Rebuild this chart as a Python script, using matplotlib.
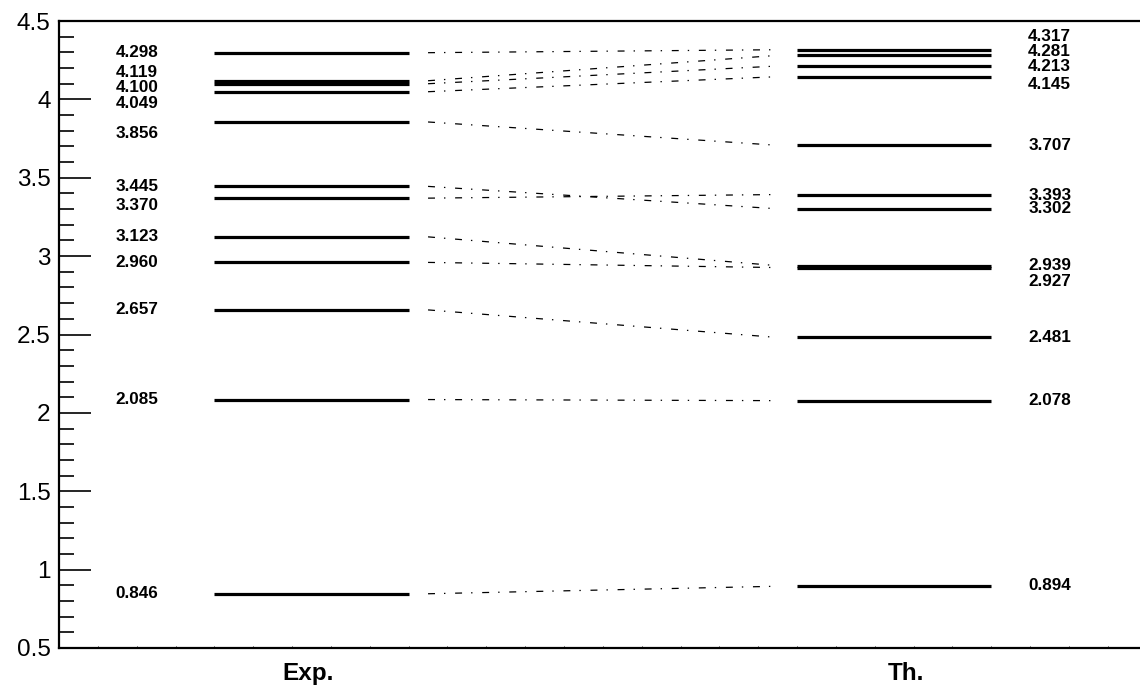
import matplotlib
matplotlib.use('Agg')
import matplotlib.pyplot as plt
from matplotlib.ticker import MultipleLocator

plt.rcParams['font.family'] = ['Liberation Sans', 'DejaVu Sans']
plt.rcParams['lines.scale_dashes'] = False

# level energies (MeV)
exp_levels = [4.298, 4.119, 4.100, 4.049, 3.856, 3.445, 3.370, 3.123, 2.960, 2.657, 2.085, 0.846]
th_levels = [4.317, 4.281, 4.213, 4.145, 3.707, 3.393, 3.302, 2.939, 2.927, 2.481, 2.078, 0.894]
# index of the Th. level each Exp. level is joined to
links = [0, 1, 2, 3, 4, 6, 5, 7, 8, 9, 10, 11]
# where the number labels sit (shifted apart where levels crowd)
exp_label_y = [4.298, 4.170, 4.074, 3.972, 3.784, 3.443, 3.320, 3.128, 2.960, 2.657, 2.085, 0.846]
th_label_y = [4.400, 4.304, 4.208, 4.098, 3.705, 3.390, 3.305, 2.943, 2.836, 2.478, 2.082, 0.896]
columns = ['Exp.', 'Th.']

exp_x = (4, 9)
th_x = (19, 24)
link_x = (9.5, 18.5)
lab_fs = 12.3

fig = plt.figure(figsize=(11.4, 6.94), dpi=100)
ax = fig.add_axes([0.0518, 0.0663, 0.9482, 0.9034])

for e in exp_levels:
    ax.plot(exp_x, [e, e], color='black', lw=2.3, solid_capstyle='butt')
for t in th_levels:
    ax.plot(th_x, [t, t], color='black', lw=2.3, solid_capstyle='butt')
for i, j in enumerate(links):
    ax.plot(link_x, [exp_levels[i], th_levels[j]], color='black', lw=0.9,
            linestyle=(0, (5, 6.5, 1, 7)))

for e, ly in zip(exp_levels, exp_label_y):
    ax.text(1.45, ly, '%.3f' % e, fontsize=lab_fs, fontweight='bold', ha='left', va='center')
for t, ly in zip(th_levels, th_label_y):
    ax.text(24.95, ly, '%.3f' % t, fontsize=lab_fs, fontweight='bold', ha='left', va='center')

ax.set_xlim(0, 27.83)
ax.set_ylim(0.5, 4.5)
ax.set_yticks([0.5, 1, 1.5, 2, 2.5, 3, 3.5, 4, 4.5])
ax.set_yticklabels(['0.5', '1', '1.5', '2', '2.5', '3', '3.5', '4', '4.5'])
ax.yaxis.set_minor_locator(MultipleLocator(0.1))
ax.tick_params(axis='y', which='major', direction='in', length=23, width=1.2, labelsize=17.5, pad=6)
ax.tick_params(axis='y', which='minor', direction='in', length=11, width=1.2)

ax.set_xticks([6.4, 21.8])
ax.set_xticklabels(columns, fontsize=17.5, fontweight='bold')
ax.xaxis.set_minor_locator(MultipleLocator(1))
ax.tick_params(axis='x', which='major', length=0, pad=10)
ax.tick_params(axis='x', which='minor', direction='in', length=1.2, width=0.6)

ax.spines['right'].set_visible(False)
for s in ['left', 'bottom', 'top']:
    ax.spines[s].set_linewidth(1.6)

fig.savefig('out.png', dpi=100)
